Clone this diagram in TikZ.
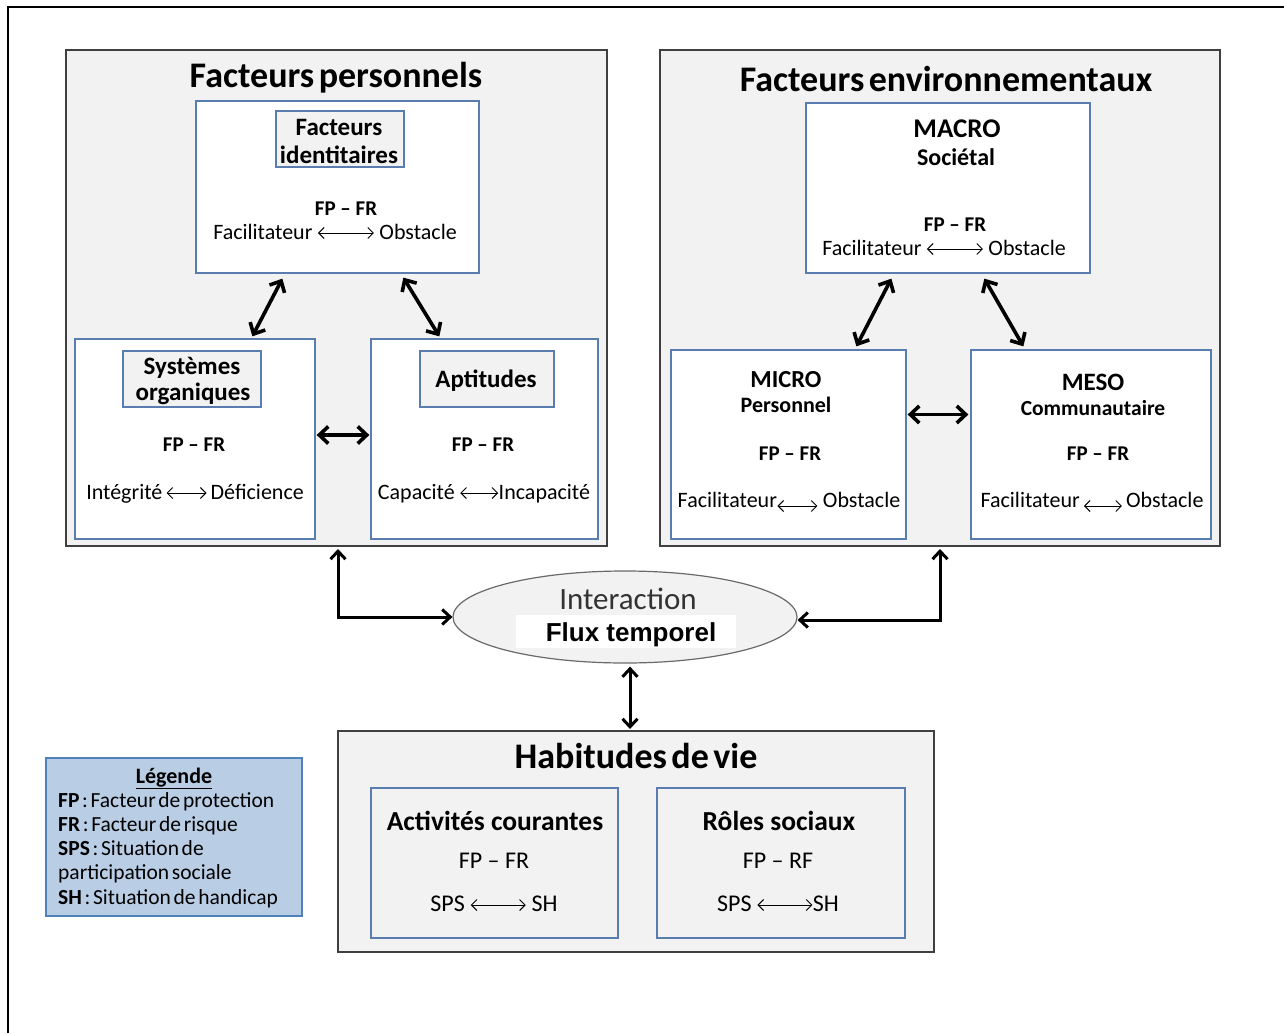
\documentclass[tikz,border=0pt]{standalone}
\usepackage{fontspec}
\setmainfont{Carlito}
\newfontfamily\tight[WordSpace=0.55]{Carlito}
\newfontfamily\arialb{Liberation Sans}
\usetikzlibrary{arrows.meta,shapes.geometric,calc}

\definecolor{panel}{HTML}{F2F2F2}
\definecolor{outline}{HTML}{404040}
\definecolor{boxblue}{HTML}{5A7DB0}
\definecolor{legfill}{HTML}{B9CDE5}
\definecolor{legline}{HTML}{4F81BD}
\definecolor{ellline}{HTML}{6A6A6A}

% thin double arrow used inside text lines
\newcommand\lra[1]{\tikz[baseline=0pt]\draw[{Straight Barb[length=5.5pt,width=11pt]}-{Straight Barb[length=5.5pt,width=11pt]}, line width=1pt] (0pt,6pt) -- (#1pt,6pt);}

\begin{document}
\begin{tikzpicture}[x=1pt,y=-1pt,
  outerbox/.style={draw=outline, line width=2pt, fill=panel, inner sep=0pt},
  innerbox/.style={draw=boxblue, line width=1.3pt, fill=white, inner sep=0pt},
  labbox/.style={draw=boxblue, line width=1.3pt, fill=panel, inner sep=0pt},
  txt/.style={inner sep=0pt, anchor=base},
  big/.style={txt, font=\tight\bfseries\fontsize{36}{40}\selectfont},
  lab/.style={txt, font=\bfseries\fontsize{25}{28}\selectfont},
  fpfr/.style={txt, font=\bfseries\fontsize{21}{23}\selectfont},
  reg/.style={txt, font=\fontsize{22}{24}\selectfont},
  leg/.style={txt, anchor=base west, font=\tight\fontsize{21.5}{24}\selectfont},
  bigarrow/.style={{Straight Barb[length=9pt,width=17pt]}-{Straight Barb[length=9pt,width=17pt]}, line width=3.6pt},
  link/.style={{Straight Barb[length=8pt,width=15pt]}-{Straight Barb[length=8pt,width=15pt]}, line width=3pt, line join=miter},
]
\useasboundingbox (0,0) rectangle (1284,1033);
\fill[white] (0,0) rectangle (1284,1033);

% page frame
\draw[line width=1.6pt] (8,1033) -- (8,7) -- (1284,7);

% ---------- personal factors ----------
\node[outerbox, minimum width=541pt, minimum height=496pt] (fpers) at (336.5,298) {};
\node[big] (tpers) at (336,88) {Facteurs personnels};

\node[innerbox, minimum width=283pt, minimum height=172pt] (ident) at (337.5,187) {};
\node[labbox, minimum width=128pt, minimum height=56pt] (identlab) at (340,139) {};
\node[lab] (ident1) at (339,135) {Facteurs};
\node[lab] (ident2) at (339,163) {identitaires};
\node[fpfr] (identfp) at (346,215) {FP -- FR};
\node[reg] (identline) at (335,239) {Facilitateur \lra{56} Obstacle};

\node[innerbox, minimum width=240pt, minimum height=200pt] (sys) at (195,439) {};
\node[labbox, minimum width=138pt, minimum height=56pt] (syslab) at (192,379) {};
\node[lab] (sys1) at (192,374) {Systèmes};
\node[lab] (sys2) at (193,400) {organiques};
\node[fpfr] (sysfp) at (194,451) {FP -- FR};
\node[reg] (sysline) at (195,499) {Intégrité\,\lra{40}\,Déficience};

\node[innerbox, minimum width=227pt, minimum height=200pt] (apt) at (484.5,439) {};
\node[labbox, minimum width=134pt, minimum height=56pt] (aptlab) at (487,379) {};
\node[lab] (apt1) at (486,387) {Aptitudes};
\node[fpfr] (aptfp) at (483,451) {FP -- FR};
\node[reg] (aptline) at (484,499) {Capacité \lra{38}Incapacité};

\draw[bigarrow] ([xshift=87pt,yshift=-5pt]ident.south west) -- ([xshift=178pt,yshift=2pt]sys.north west);
\draw[bigarrow] ([xshift=208pt,yshift=-4pt]ident.south west) -- ([xshift=69pt,yshift=2pt]apt.north west);
\draw[bigarrow] ([xshift=1pt,yshift=4pt]sys.east) -- ([xshift=-1pt,yshift=4pt]apt.west);

% ---------- environmental factors ----------
\node[outerbox, minimum width=560pt, minimum height=496pt] (fenv) at (940,298) {};
\node[big] (tenv) at (946,91) {Facteurs environnementaux};

\node[innerbox, minimum width=284pt, minimum height=170pt] (macro) at (948,188) {};
\node[lab, font=\bfseries\fontsize{27}{30}\selectfont] (macro1) at (957,137) {MACRO};
\node[lab, font=\bfseries\fontsize{24}{26}\selectfont] (macro2) at (956,165) {Sociétal};
\node[fpfr] (macrofp) at (955,231) {FP -- FR};
\node[reg] (macroline) at (944,255) {Facilitateur \lra{56} Obstacle};

\node[innerbox, minimum width=235pt, minimum height=189pt] (micro) at (788.5,444.5) {};
\node[lab, font=\bfseries\fontsize{24.5}{27}\selectfont] (micro1) at (786,387) {MICRO};
\node[lab, font=\bfseries\fontsize{22}{24}\selectfont] (micro2) at (786,412) {Personnel};
\node[fpfr] (microfp) at (790,460) {FP -- FR};
\node[reg] (microline) at (789,507) {Facilitateur\raisebox{-5pt}{\lra{40}} Obstacle};

\node[innerbox, minimum width=240pt, minimum height=189pt] (meso) at (1091,444.5) {};
\node[lab, font=\bfseries\fontsize{25}{27}\selectfont] (meso1) at (1093,390) {MESO};
\node[lab, font=\bfseries\fontsize{21.5}{24}\selectfont] (meso2) at (1093,415) {Communautaire};
\node[fpfr] (mesofp) at (1098,460) {FP -- FR};
\node[reg] (mesoline) at (1092,507) {Facilitateur\,\raisebox{-5pt}{\lra{38}}\,Obstacle};

\draw[bigarrow] ([xshift=86pt,yshift=-5pt]macro.south west) -- ([xshift=186pt,yshift=3pt]micro.north west);
\draw[bigarrow] ([xshift=179pt,yshift=-5pt]macro.south west) -- ([xshift=53pt,yshift=3pt]meso.north west);
\draw[bigarrow] ([xshift=1pt,yshift=30pt]micro.east) -- ([xshift=-2pt,yshift=30pt]meso.west);

% ---------- interaction ----------
\node[ellipse, draw=ellline, line width=1.2pt, fill=panel, minimum width=344pt, minimum height=92pt, inner sep=0pt] (ell) at (625,617) {};
\node[txt, font=\fontsize{31}{34}\selectfont, text=black!80] (inter) at (628,609) {Interaction};
\node[fill=white, minimum width=220pt, minimum height=33pt, inner sep=0pt] (fluxbg) at (626,631.5) {};
\node[txt, font=\arialb\bfseries\fontsize{26}{29}\selectfont] (flux) at (631,641) {Flux temporel};

% ---------- life habits ----------
\node[outerbox, minimum width=596pt, minimum height=221pt] (hv) at (636,841.5) {};
\node[big] (thv) at (636,768) {Habitudes de vie};

\node[labbox, minimum width=247pt, minimum height=150pt] (act) at (494.5,863) {};
\node[lab, font=\bfseries\fontsize{27.5}{30}\selectfont] (act1) at (495,830) {Activités courantes};
\node[reg, font=\fontsize{24}{26}\selectfont] (actfp) at (494,868) {FP -- FR};
\node[reg, font=\fontsize{24}{26}\selectfont] (actline) at (494,911) {SPS \lra{55} SH};

\node[labbox, minimum width=248pt, minimum height=150pt] (roles) at (781,863) {};
\node[lab, font=\bfseries\fontsize{27.5}{30}\selectfont] (roles1) at (779,830) {Rôles sociaux};
\node[reg, font=\fontsize{24}{26}\selectfont] (rolesfp) at (778,868) {FP -- RF};
\node[reg, font=\fontsize{24}{26}\selectfont] (rolesline) at (778,911) {SPS \lra{55}SH};

\draw[link] ([xshift=1.5pt,yshift=-2pt]fpers.south) |- (ell.west);
\draw[link] ([yshift=-2pt]fenv.south) |- ([yshift=-3pt]ell.east);
\draw[link] ([xshift=5pt,yshift=-3pt]ell.south) -- ([xshift=-6pt,yshift=1pt]hv.north);

% ---------- legend ----------
\node[draw=legline, line width=2pt, fill=legfill, minimum width=256pt, minimum height=158pt, inner sep=0pt] (legend) at (174,837) {};
\node[txt, font=\bfseries\fontsize{22}{24}\selectfont] (legt) at (174,783) {\underline{Légende}};
\node[leg] (leg1) at (58,807) {\textbf{FP} : Facteur de protection};
\node[leg] (leg2) at (58,831) {\textbf{FR} : Facteur de risque};
\node[leg] (leg3) at (58,855) {\textbf{SPS} : Situation de};
\node[leg] (leg4) at (58,879) {participation sociale};
\node[leg] (leg5) at (58,904) {\textbf{SH} : Situation de handicap};
\end{tikzpicture}
\end{document}
